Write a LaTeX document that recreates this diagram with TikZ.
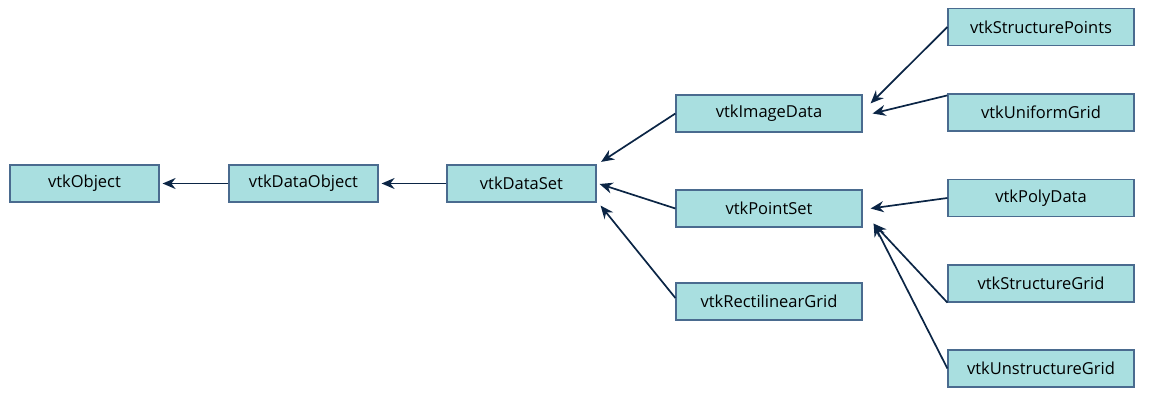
\documentclass[tikz,border=0pt]{standalone}
\usepackage{fontspec}
\setmainfont{Open Sans}
\usetikzlibrary{arrows.meta, positioning}
\definecolor{boxfill}{HTML}{A9DFE0}
\definecolor{boxline}{HTML}{4A6B8F}
\definecolor{arrowcol}{HTML}{0B2545}

\begin{document}
\begin{tikzpicture}[x=1pt, y=1pt,
		classbox/.style={draw=boxline, fill=boxfill, line width=1.2pt, minimum height=37pt, inner sep=0pt, font=\fontsize{16.5}{19}\selectfont},
		shortbox/.style={classbox, minimum width=149pt},
		longbox/.style={classbox, minimum width=186pt},
		inherit/.style={draw=arrowcol, line width=1.7pt, -{Stealth[length=13pt, width=11pt]}}]
	\useasboundingbox (0,0) rectangle (1164,413);
	% Base classes
	\node[shortbox] (Obj) at (84.5,229.5) {vtkObject};
	\node[shortbox] (DataObj) at (303.5,229.5) {vtkDataObject};
	\node[shortbox] (DataSet) at (521.5,229.5) {vtkDataSet};
	% Subclasses of vtkDataSet
	\node[longbox] (Image) at (769,299.5) {vtkImageData};
	\node[longbox] (PointSet) at (769,204.5) {vtkPointSet};
	\node[longbox] (Rect) at (769,111.5) {vtkRectilinearGrid};
	% Leaf classes
	\node[longbox] (StrPts) at (1041,386) {vtkStructurePoints};
	\node[longbox] (Uniform) at (1041,300.5) {vtkUniformGrid};
	\node[longbox] (Poly) at (1041,215) {vtkPolyData};
	\node[longbox] (StrGrid) at (1041,129.5) {vtkStructureGrid};
	\node[longbox] (Unstr) at (1041,44.5) {vtkUnstructureGrid};
	% Inheritance arrows
	\draw[inherit] (DataObj.west) -- ([xshift=3pt]Obj.east);
	\draw[inherit] (DataSet.west) -- ([xshift=3pt]DataObj.east);
	\draw[inherit] (Image.west) -- ([shift={(4.5pt,2.5pt)}]DataSet.north east);
	\draw[inherit] (PointSet.west) -- ([shift={(3pt,-0.5pt)}]DataSet.east);
	\draw[inherit] ([yshift=3.5pt]Rect.west) -- ([shift={(4pt,-3pt)}]DataSet.south east);
	\draw[inherit] (StrPts.west) -- ([shift={(8pt,-9pt)}]Image.north east);
	\draw[inherit] ([yshift=-2pt]Uniform.north west) -- ([xshift=10pt]Image.east);
	\draw[inherit] (Poly.west) -- ([xshift=8pt]PointSet.east);
	\draw[inherit] (StrGrid.south west) -- ([shift={(11pt,4pt)}]PointSet.south east);
	\draw[inherit] (Unstr.west) -- ([shift={(11pt,4pt)}]PointSet.south east);
\end{tikzpicture}
\end{document}
